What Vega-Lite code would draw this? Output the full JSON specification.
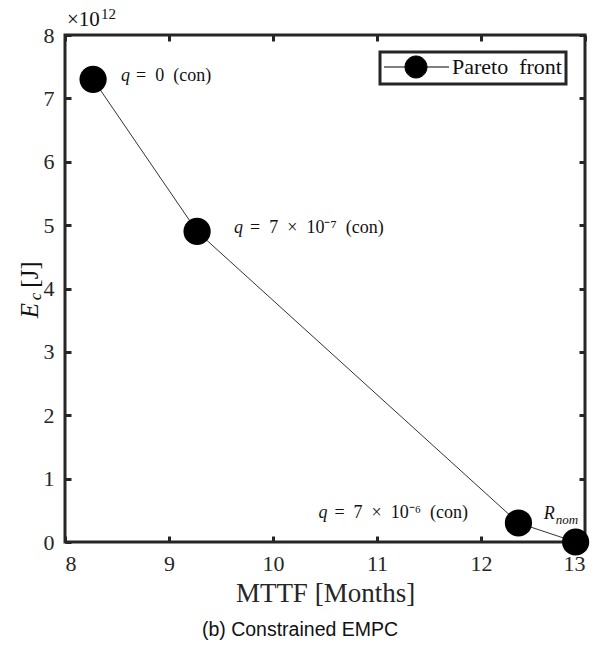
{
  "$schema": "https://vega.github.io/schema/vega-lite/v6.json",
  "width": 520,
  "height": 507,
  "autosize": {"type": "none"},
  "padding": {"left": 65, "top": 35, "right": 13, "bottom": 106},
  "background": "white",
  "title": {
    "text": "(b) Constrained EMPC",
    "orient": "bottom",
    "frame": "group",
    "anchor": "middle",
    "dx": -25,
    "offset": 15,
    "font": "Liberation Sans",
    "fontSize": 19.5,
    "fontWeight": "normal",
    "color": "#111"
  },
  "config": {
    "view": {"stroke": "#262626", "strokeWidth": 3},
    "font": "Liberation Serif",
    "text": {"font": "Liberation Serif"},
    "axis": {
      "domain": false,
      "grid": false,
      "ticks": true,
      "tickSize": -6,
      "tickWidth": 3,
      "tickColor": "#262626",
      "labelFont": "Liberation Serif",
      "labelFontSize": 22,
      "labelColor": "#262626",
      "titleFont": "Liberation Serif",
      "titleFontSize": 27,
      "titleFontWeight": "normal",
      "titleColor": "#262626"
    },
    "legend": {"strokeColor": "#262626", "strokeWidth": 3, "labelFont": "Liberation Serif"}
  },
  "datasets": {
    "front": [
      {"mttf": 8.27, "ec": 7.3, "series": "Pareto front", "tag": "a", "label": "= 0 (con)"},
      {"mttf": 9.27, "ec": 4.9, "series": "Pareto front", "tag": "b", "label": "= 7 × 10⁻⁷ (con)"},
      {"mttf": 12.36, "ec": 0.3, "series": "Pareto front", "tag": "c", "label": "= 7 × 10⁻⁶ (con)"},
      {"mttf": 12.91, "ec": 0.0, "series": "Pareto front", "tag": "d", "label": "nom"}
    ]
  },
  "data": {"name": "front"},
  "layer": [
    {
      "mark": {"type": "line", "color": "#333", "strokeWidth": 1},
      "encoding": {
        "x": {"field": "mttf", "type": "quantitative", "scale": {"domain": [8, 13], "nice": false},
              "axis": {"orient": "bottom", "values": [8, 9, 10, 11, 12, 13], "title": "MTTF [Months]", "labelPadding": 17, "titlePadding": 6, "labelFont": "Liberation Serif", "titleFont": "Liberation Serif"}},
        "y": {"field": "ec", "type": "quantitative", "scale": {"domain": [0, 8], "nice": false},
              "axis": {"orient": "left", "values": [0, 1, 2, 3, 4, 5, 6, 7, 8], "title": null, "labelPadding": 17, "labelFont": "Liberation Serif"}}
      }
    },
    {
      "mark": {"type": "point", "filled": true, "size": 740, "opacity": 1, "shape": "circle"},
      "encoding": {
        "x": {"field": "mttf", "type": "quantitative", "scale": {"domain": [8, 13], "nice": false},
              "axis": {"orient": "top", "values": [8, 9, 10, 11, 12, 13], "labels": false, "title": null}},
        "y": {"field": "ec", "type": "quantitative", "scale": {"domain": [0, 8], "nice": false},
              "axis": {"orient": "right", "values": [0, 1, 2, 3, 4, 5, 6, 7, 8], "labels": false, "title": null}},
        "color": {"field": "series", "type": "nominal", "scale": {"range": ["black"]},
          "legend": {
            "orient": "none", "legendX": 315, "legendY": 17, "title": null,
            "symbolType": "M-1.1,0H1.0M3.2,0H5.4M1.0,0A1.1,1.1,0,1,1,3.2,0A1.1,1.1,0,1,1,1.0,0Z",
            "symbolSize": 400, "symbolStrokeWidth": 1, "symbolStrokeColor": "black", "symbolFillColor": "black",
            "labelFont": "Liberation Serif", "labelFontSize": 22, "labelColor": "#111", "labelOffset": 46,
            "labelExpr": "replace(datum.label, ' ', '\u2002')",
            "padding": 4, "strokeColor": "#262626", "fillColor": "white"
          }}
      }
    },
    {
      "transform": [{"filter": "datum.tag == 'a'"}],
      "mark": {"type": "text", "font": "Liberation Serif", "align": "left", "baseline": "middle", "fontStyle": "italic", "fontSize": 18, "dx": 28, "dy": -3, "color": "#111"},
      "encoding": {"x": {"field": "mttf", "type": "quantitative", "axis": null}, "y": {"field": "ec", "type": "quantitative", "axis": null}, "text": {"value": "q"}}
    },
    {
      "transform": [{"filter": "datum.tag == 'b'"}],
      "mark": {"type": "text", "font": "Liberation Serif", "align": "left", "baseline": "middle", "fontStyle": "italic", "fontSize": 18, "dx": 37, "dy": -3, "color": "#111"},
      "encoding": {"x": {"field": "mttf", "type": "quantitative", "axis": null}, "y": {"field": "ec", "type": "quantitative", "axis": null}, "text": {"value": "q"}}
    },
    {
      "transform": [{"filter": "datum.tag == 'a'"}],
      "mark": {"type": "text", "font": "Liberation Serif", "align": "left", "baseline": "middle", "fontSize": 18, "dx": 43, "dy": -3, "color": "#111"},
      "encoding": {"x": {"field": "mttf", "type": "quantitative", "axis": null}, "y": {"field": "ec", "type": "quantitative", "axis": null}, "text": {"value": "=\u20020\u2002(con)"}}
    },
    {
      "transform": [{"filter": "datum.tag == 'b'"}],
      "mark": {"type": "text", "font": "Liberation Serif", "align": "left", "baseline": "middle", "fontSize": 18, "dx": 53, "dy": -3, "color": "#111"},
      "encoding": {"x": {"field": "mttf", "type": "quantitative", "axis": null}, "y": {"field": "ec", "type": "quantitative", "axis": null}, "text": {"value": "=\u20027\u2002×\u200210⁻⁷\u2002(con)"}}
    },
    {
      "transform": [{"filter": "datum.tag == 'c'"}],
      "mark": {"type": "text", "font": "Liberation Serif", "align": "left", "baseline": "middle", "fontStyle": "italic", "fontSize": 18, "dx": -200, "dy": -10, "color": "#111"},
      "encoding": {"x": {"field": "mttf", "type": "quantitative", "axis": null}, "y": {"field": "ec", "type": "quantitative", "axis": null}, "text": {"value": "q"}}
    },
    {
      "transform": [{"filter": "datum.tag == 'c'"}],
      "mark": {"type": "text", "font": "Liberation Serif", "align": "left", "baseline": "middle", "fontSize": 18, "dx": -184, "dy": -10, "color": "#111"},
      "encoding": {"x": {"field": "mttf", "type": "quantitative", "axis": null}, "y": {"field": "ec", "type": "quantitative", "axis": null}, "text": {"value": "=\u20027\u2002×\u200210⁻⁶\u2002(con)"}}
    },
    {
      "transform": [{"filter": "datum.tag == 'd'"}],
      "mark": {"type": "text", "font": "Liberation Serif", "align": "left", "baseline": "middle", "fontStyle": "italic", "fontSize": 18, "dx": -32, "dy": -28, "color": "#111"},
      "encoding": {"x": {"field": "mttf", "type": "quantitative", "axis": null}, "y": {"field": "ec", "type": "quantitative", "axis": null}, "text": {"value": "R"}}
    },
    {
      "transform": [{"filter": "datum.tag == 'd'"}],
      "mark": {"type": "text", "font": "Liberation Serif", "align": "left", "baseline": "middle", "fontStyle": "italic", "fontSize": 13, "dx": -20, "dy": -22, "color": "#111"},
      "encoding": {"x": {"field": "mttf", "type": "quantitative", "axis": null}, "y": {"field": "ec", "type": "quantitative", "axis": null}, "text": {"field": "label"}}
    },
    {
      "transform": [{"filter": "datum.tag == 'a'"}],
      "mark": {"type": "text", "font": "Liberation Serif", "align": "left", "baseline": "alphabetic", "fontSize": 21, "dx": 2, "dy": -9, "color": "#111"},
      "encoding": {"x": {"datum": 8, "type": "quantitative", "axis": null}, "y": {"datum": 8, "type": "quantitative", "axis": null}, "text": {"value": "×10"}}
    },
    {
      "transform": [{"filter": "datum.tag == 'a'"}],
      "mark": {"type": "text", "font": "Liberation Serif", "align": "left", "baseline": "alphabetic", "fontSize": 15, "dx": 36, "dy": -16, "color": "#111"},
      "encoding": {"x": {"datum": 8, "type": "quantitative", "axis": null}, "y": {"datum": 8, "type": "quantitative", "axis": null}, "text": {"value": "12"}}
    },
    {
      "transform": [{"filter": "datum.tag == 'a'"}],
      "mark": {"type": "text", "font": "Liberation Serif", "align": "center", "baseline": "middle", "angle": 270, "fontStyle": "italic", "fontSize": 25, "dx": -22, "color": "#111"},
      "encoding": {"x": {"datum": 7.66, "type": "quantitative", "axis": null}, "y": {"datum": 4, "type": "quantitative", "axis": null}, "text": {"value": "E"}}
    },
    {
      "transform": [{"filter": "datum.tag == 'a'"}],
      "mark": {"type": "text", "font": "Liberation Serif", "align": "center", "baseline": "middle", "angle": 270, "fontStyle": "italic", "fontSize": 17, "dx": -8, "dy": 6, "color": "#111"},
      "encoding": {"x": {"datum": 7.66, "type": "quantitative", "axis": null}, "y": {"datum": 4, "type": "quantitative", "axis": null}, "text": {"value": "c"}}
    },
    {
      "transform": [{"filter": "datum.tag == 'a'"}],
      "mark": {"type": "text", "font": "Liberation Serif", "align": "center", "baseline": "middle", "angle": 270, "fontSize": 25, "dx": 14, "color": "#111"},
      "encoding": {"x": {"datum": 7.66, "type": "quantitative", "axis": null}, "y": {"datum": 4, "type": "quantitative", "axis": null}, "text": {"value": "[J]"}}
    }
  ],
  "resolve": {"axis": {"x": "independent", "y": "independent"}}
}
